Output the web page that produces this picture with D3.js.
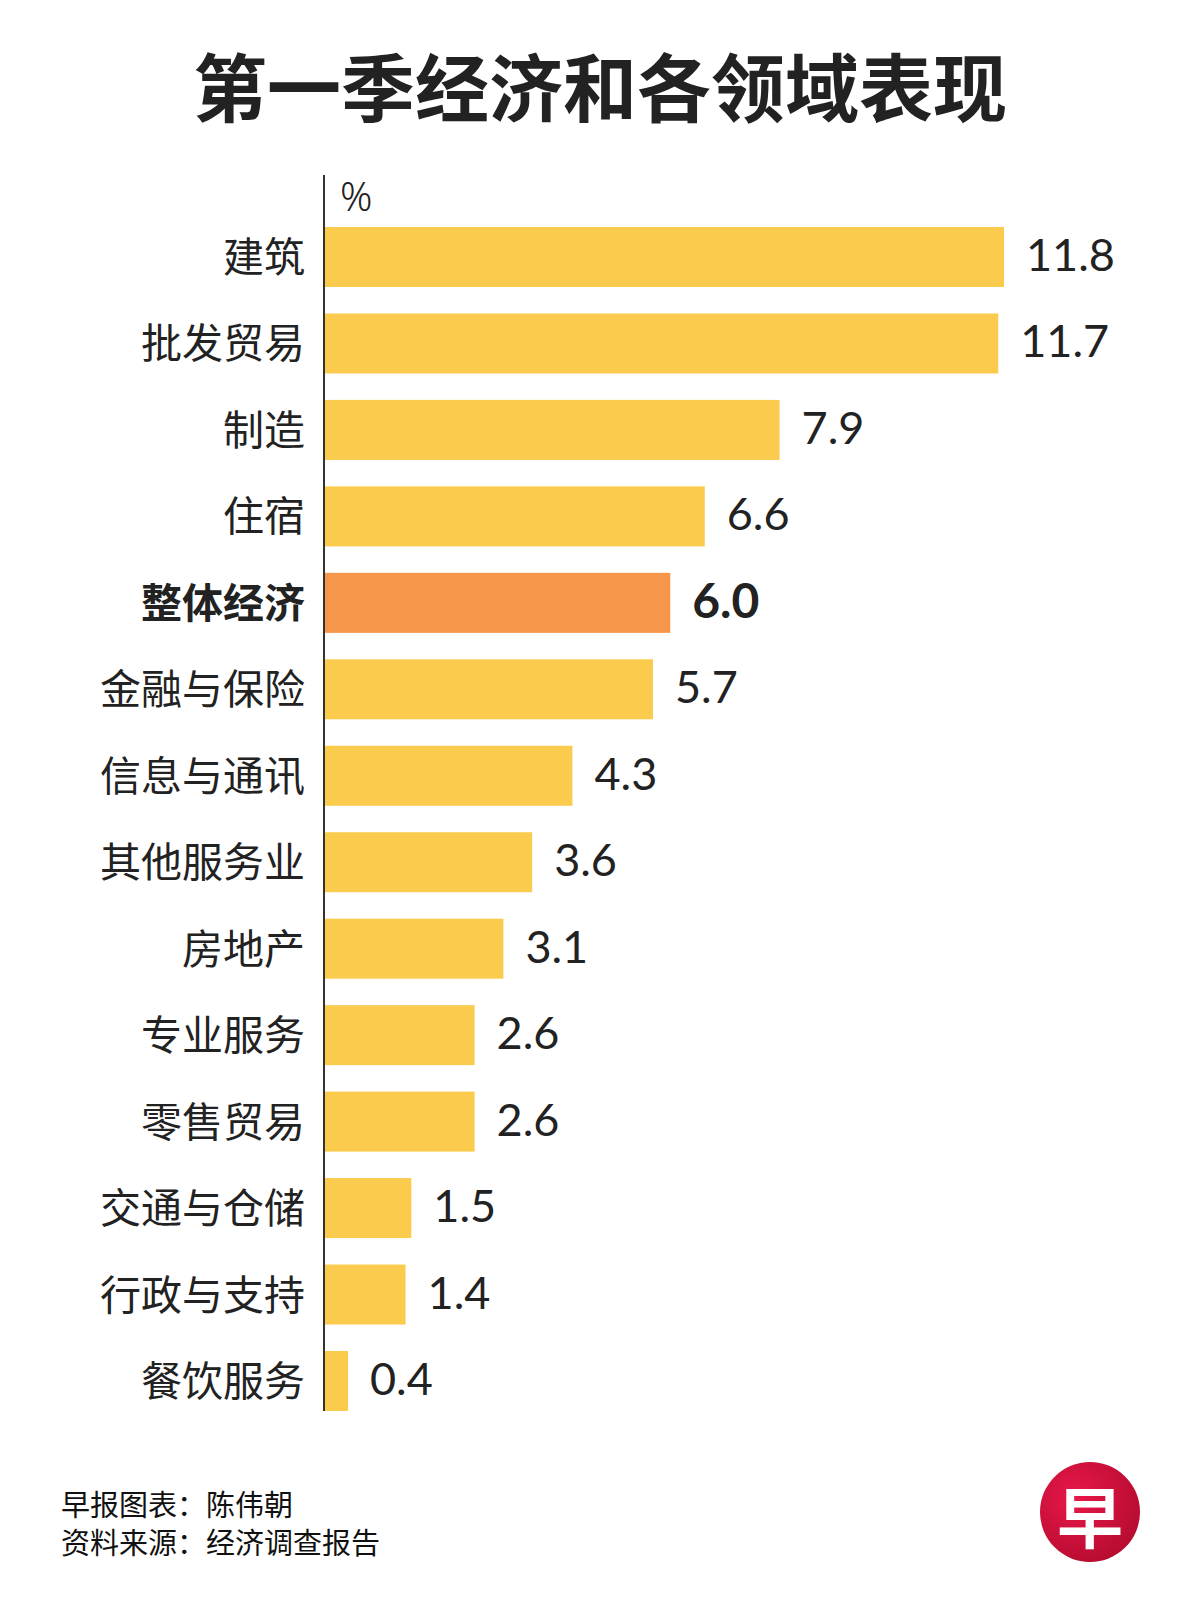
<!DOCTYPE html>
<html>
<head>
<meta charset="utf-8">
<script src="https://cdn.jsdelivr.net/npm/d3@7"></script>
<style>
  html, body { margin: 0; padding: 0; background: #fff; }
  svg { display: block; }
</style>
</head>
<body>
<div id="area"></div>
<script>
// data
var sectors = ['建筑', '批发贸易', '制造', '住宿', '整体经济', '金融与保险', '信息与通讯',
  '其他服务业', '房地产', '专业服务', '零售贸易', '交通与仓储', '行政与支持', '餐饮服务'];
var growth = [11.8, 11.7, 7.9, 6.6, 6.0, 5.7, 4.3, 3.6, 3.1, 2.6, 2.6, 1.5, 1.4, 0.4];
var highlight = '整体经济';
var footerLines = ['早报图表：陈伟朝', '资料来源：经济调查报告'];

var width = 1200, height = 1620;
var cjk = '"Noto Sans CJK SC", "Noto Sans", sans-serif';
var num = 'Lato, "Open Sans", sans-serif';

var svg = d3.select('#area').append('svg')
  .attr('width', width).attr('height', height);

// title
svg.append('text')
  .attr('x', 600).attr('y', 83)
  .attr('text-anchor', 'middle')
  .attr('dominant-baseline', 'central')
  .style('font-family', cjk)
  .style('font-weight', 700)
  .style('font-size', '74px')
  .style('fill', '#222')
  .text('第一季经济和各领域表现');

var rows = sectors.map(function(s, i){ return { name: s, value: growth[i] }; });

var x = d3.scaleLinear().domain([0, 11.8]).range([325, 1004]);
var y = d3.scaleBand().domain(sectors).range([227, 1411]).paddingInner(0.306).paddingOuter(0);

// bars
svg.append('g').selectAll('rect').data(rows).enter().append('rect')
  .attr('x', x(0))
  .attr('y', function(d){ return y(d.name); })
  .attr('width', function(d){ return x(d.value) - x(0); })
  .attr('height', y.bandwidth())
  .attr('fill', function(d){ return d.name === highlight ? '#F5964A' : '#FACB4C'; });

// category labels
svg.append('g').selectAll('text').data(rows).enter().append('text')
  .attr('x', 305)
  .attr('y', function(d){ return y(d.name) + y.bandwidth() / 2 - 3; })
  .attr('text-anchor', 'end')
  .attr('dominant-baseline', 'central')
  .style('font-family', cjk)
  .style('font-weight', function(d){ return d.name === highlight ? 700 : 400; })
  .style('font-size', '41px')
  .style('fill', '#222')
  .text(function(d){ return d.name; });

// value labels
svg.append('g').selectAll('text').data(rows).enter().append('text')
  .attr('x', function(d){ return x(d.value) + 22; })
  .attr('y', function(d){ return y(d.name) + y.bandwidth() / 2 - 3; })
  .attr('dominant-baseline', 'central')
  .style('font-family', num)
  .style('font-weight', function(d){ return d.name === highlight ? 700 : 400; })
  .style('font-size', function(d){ return d.name === highlight ? '48px' : '45px'; })
  .style('fill', '#222')
  .text(function(d){ return d3.format('.1f')(d.value); });

// axis line and unit
svg.append('line')
  .attr('x1', 324).attr('x2', 324)
  .attr('y1', 175).attr('y2', 1411)
  .attr('stroke', '#333').attr('stroke-width', 2);

svg.append('text')
  .attr('x', 340).attr('y', 195)
  .attr('dominant-baseline', 'central')
  .style('font-family', '"Noto Sans", sans-serif')
  .style('font-weight', 300)
  .style('font-size', '40px')
  .style('fill', '#222')
  .text('%');

// footer
svg.append('g').selectAll('text').data(footerLines).enter().append('text')
  .attr('x', 61)
  .attr('y', function(d, i){ return 1503 + i * 38; })
  .attr('dominant-baseline', 'central')
  .style('font-family', cjk)
  .style('font-size', '29px')
  .style('fill', '#111')
  .text(function(d){ return d; });

// logo
var grad = svg.append('defs').append('radialGradient')
  .attr('id', 'logo-grad').attr('cx', '35%').attr('cy', '35%').attr('r', '70%');
grad.append('stop').attr('offset', '0%').attr('stop-color', '#E8174A');
grad.append('stop').attr('offset', '100%').attr('stop-color', '#B70C30');

var logo = svg.append('g').attr('transform', 'translate(1090,1512)');
logo.append('circle').attr('r', 50).attr('fill', 'url(#logo-grad)');
logo.append('text')
  .attr('text-anchor', 'middle')
  .attr('dominant-baseline', 'central')
  .attr('y', 2)
  .style('font-family', cjk)
  .style('font-weight', 700)
  .style('font-size', '66px')
  .style('fill', '#fff')
  .text('早');
</script>
</body>
</html>
